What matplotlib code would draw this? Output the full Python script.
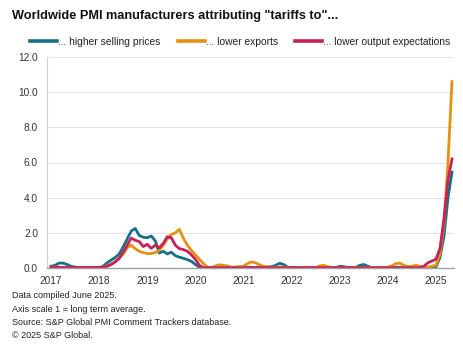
import matplotlib
matplotlib.use("Agg")
import matplotlib.pyplot as plt
import numpy as np

plt.rcParams['font.family'] = ['Liberation Sans', 'DejaVu Sans']

# Monthly readings, Jan 2017 .. May 2025
years = ["2017", "2018", "2019", "2020", "2021", "2022", "2023", "2024", "2025"]

higher_selling_prices = [
    0.10, 0.15, 0.28, 0.28, 0.20, 0.10, 0.05, 0.02, 0.00, 0.00, 0.00, 0.00,   # 2017
    0.02, 0.10, 0.30, 0.45, 0.60, 0.80, 1.20, 1.65, 2.10, 2.25, 1.85, 1.75,   # 2018
    1.72, 1.82, 1.55, 0.85, 0.95, 0.80, 0.90, 0.70, 0.62, 0.55, 0.48, 0.38,   # 2019
    0.20, 0.05, 0.00, 0.00, 0.02, 0.02, 0.00, 0.02, 0.03, 0.02, 0.00, 0.02,   # 2020
    0.02, 0.03, 0.02, 0.02, 0.03, 0.05, 0.05, 0.08, 0.15, 0.27, 0.20, 0.05,   # 2021
    0.02, 0.02, 0.00, 0.02, 0.02, 0.02, 0.02, 0.02, 0.02, 0.02, 0.02, 0.02,   # 2022
    0.10, 0.08, 0.03, 0.03, 0.03, 0.15, 0.20, 0.10, 0.02, 0.02, 0.02, 0.02,   # 2023
    0.02, 0.02, 0.02, 0.02, 0.02, 0.02, 0.02, 0.02, 0.02, 0.02, 0.02, 0.02,   # 2024
    0.05, 0.60, 1.80, 4.00, 5.45,                                             # 2025
]

lower_exports = [
    0.05, 0.05, 0.05, 0.03, 0.02, 0.02, 0.02, 0.02, 0.02, 0.02, 0.02, 0.02,   # 2017
    0.02, 0.05, 0.12, 0.22, 0.35, 0.55, 0.80, 1.15, 1.30, 1.10, 0.95, 0.88,   # 2018
    0.82, 0.82, 0.88, 1.00, 1.30, 1.65, 1.90, 2.00, 2.20, 1.70, 1.30, 1.00,   # 2019
    0.75, 0.50, 0.25, 0.05, 0.02, 0.12, 0.18, 0.15, 0.12, 0.05, 0.05, 0.08,   # 2020
    0.10, 0.25, 0.35, 0.30, 0.18, 0.10, 0.05, 0.05, 0.05, 0.05, 0.05, 0.03,   # 2021
    0.03, 0.03, 0.03, 0.03, 0.03, 0.03, 0.03, 0.12, 0.15, 0.08, 0.03, 0.03,   # 2022
    0.03, 0.03, 0.03, 0.03, 0.03, 0.03, 0.03, 0.03, 0.03, 0.03, 0.03, 0.03,   # 2023
    0.05, 0.12, 0.25, 0.28, 0.15, 0.08, 0.10, 0.15, 0.10, 0.05, 0.05, 0.10,   # 2024
    0.15, 0.80, 2.50, 6.00, 10.60,                                            # 2025
]

lower_output_expectations = [
    0.05, 0.05, 0.03, 0.03, 0.03, 0.03, 0.03, 0.03, 0.03, 0.03, 0.03, 0.03,   # 2017
    0.03, 0.05, 0.10, 0.20, 0.35, 0.55, 0.90, 1.30, 1.70, 1.58, 1.50, 1.22,   # 2018
    1.35, 1.12, 1.30, 1.15, 1.40, 1.78, 1.72, 1.30, 1.10, 1.05, 0.95, 0.75,   # 2019
    0.50, 0.15, 0.02, 0.02, 0.02, 0.02, 0.02, 0.02, 0.02, 0.02, 0.02, 0.02,   # 2020
    0.02, 0.02, 0.02, 0.02, 0.02, 0.02, 0.02, 0.02, 0.02, 0.02, 0.02, 0.02,   # 2021
    0.02, 0.02, 0.02, 0.02, 0.02, 0.02, 0.02, 0.02, 0.02, 0.02, 0.02, 0.02,   # 2022
    0.02, 0.02, 0.02, 0.02, 0.02, 0.02, 0.02, 0.02, 0.02, 0.02, 0.02, 0.02,   # 2023
    0.02, 0.02, 0.02, 0.02, 0.02, 0.02, 0.02, 0.02, 0.02, 0.10, 0.30, 0.40,   # 2024
    0.50, 1.10, 2.80, 5.00, 6.20,                                             # 2025
]

series_labels = ["... higher selling prices", "... lower exports", "... lower output expectations"]
series_colors = ["#17708a", "#e8900f", "#c8205a"]

months = np.arange(len(higher_selling_prices))

fig = plt.figure(figsize=(4.64, 3.48), dpi=100)
ax = fig.add_axes([47 / 464, 1 - 268 / 348, (454 - 47) / 464, (268 - 57) / 348])

for vals, lab, col in zip([higher_selling_prices, lower_exports, lower_output_expectations],
                          series_labels, series_colors):
    ax.plot(months, vals, color=col, lw=2.0, label=lab, solid_joinstyle='round')

ax.set_xlim(-1, 100.5)
ax.set_ylim(0, 12)
ax.set_yticks(np.arange(0, 12.1, 2))
ax.set_yticklabels([f"{v:.1f}" for v in np.arange(0, 12.1, 2)])
ax.set_xticks(np.arange(len(years)) * 12)
ax.set_xticklabels(years)
ax.tick_params(axis='both', length=0, labelsize=7.3, colors='#333333')
ax.tick_params(axis='x', pad=5.5)
ax.tick_params(axis='y', pad=6.5)
ax.grid(axis='y', color='#e4e4e4', lw=0.8)
ax.set_axisbelow(True)
for s in ['top', 'right']:
    ax.spines[s].set_visible(False)
ax.spines['left'].set_color('#cfcfcf')
ax.spines['left'].set_linewidth(0.8)
ax.spines['bottom'].set_color('#a0a0a0')
ax.spines['bottom'].set_linewidth(1.0)

fig.text(12 / 464, 1 - 16.5 / 348, 'Worldwide PMI manufacturers attributing "tariffs to"...',
         fontsize=9.15, fontweight='bold', ha='left', va='center', color='#111111')

leg = fig.legend(loc='center left', bbox_to_anchor=(30 / 464, 1 - 42 / 348), ncol=3,
                 frameon=False, fontsize=7.4, handlelength=2.6, handletextpad=0.12,
                 columnspacing=1.7, borderpad=0, borderaxespad=0)
for line in leg.get_lines():
    line.set_linewidth(2.6)
for t in leg.get_texts():
    t.set_color('#222222')

notes = ["Data compiled June 2025.",
         "Axis scale 1 = long term average.",
         "Source: S&P Global PMI Comment Trackers database.",
         "\u00a9 2025 S&P Global."]
for i, line in enumerate(notes):
    fig.text(12 / 464, 1 - (296 + 13.3 * i) / 348, line, fontsize=6.5,
             ha='left', va='center', color='#222222')

fig.savefig("out.png", dpi=100)
